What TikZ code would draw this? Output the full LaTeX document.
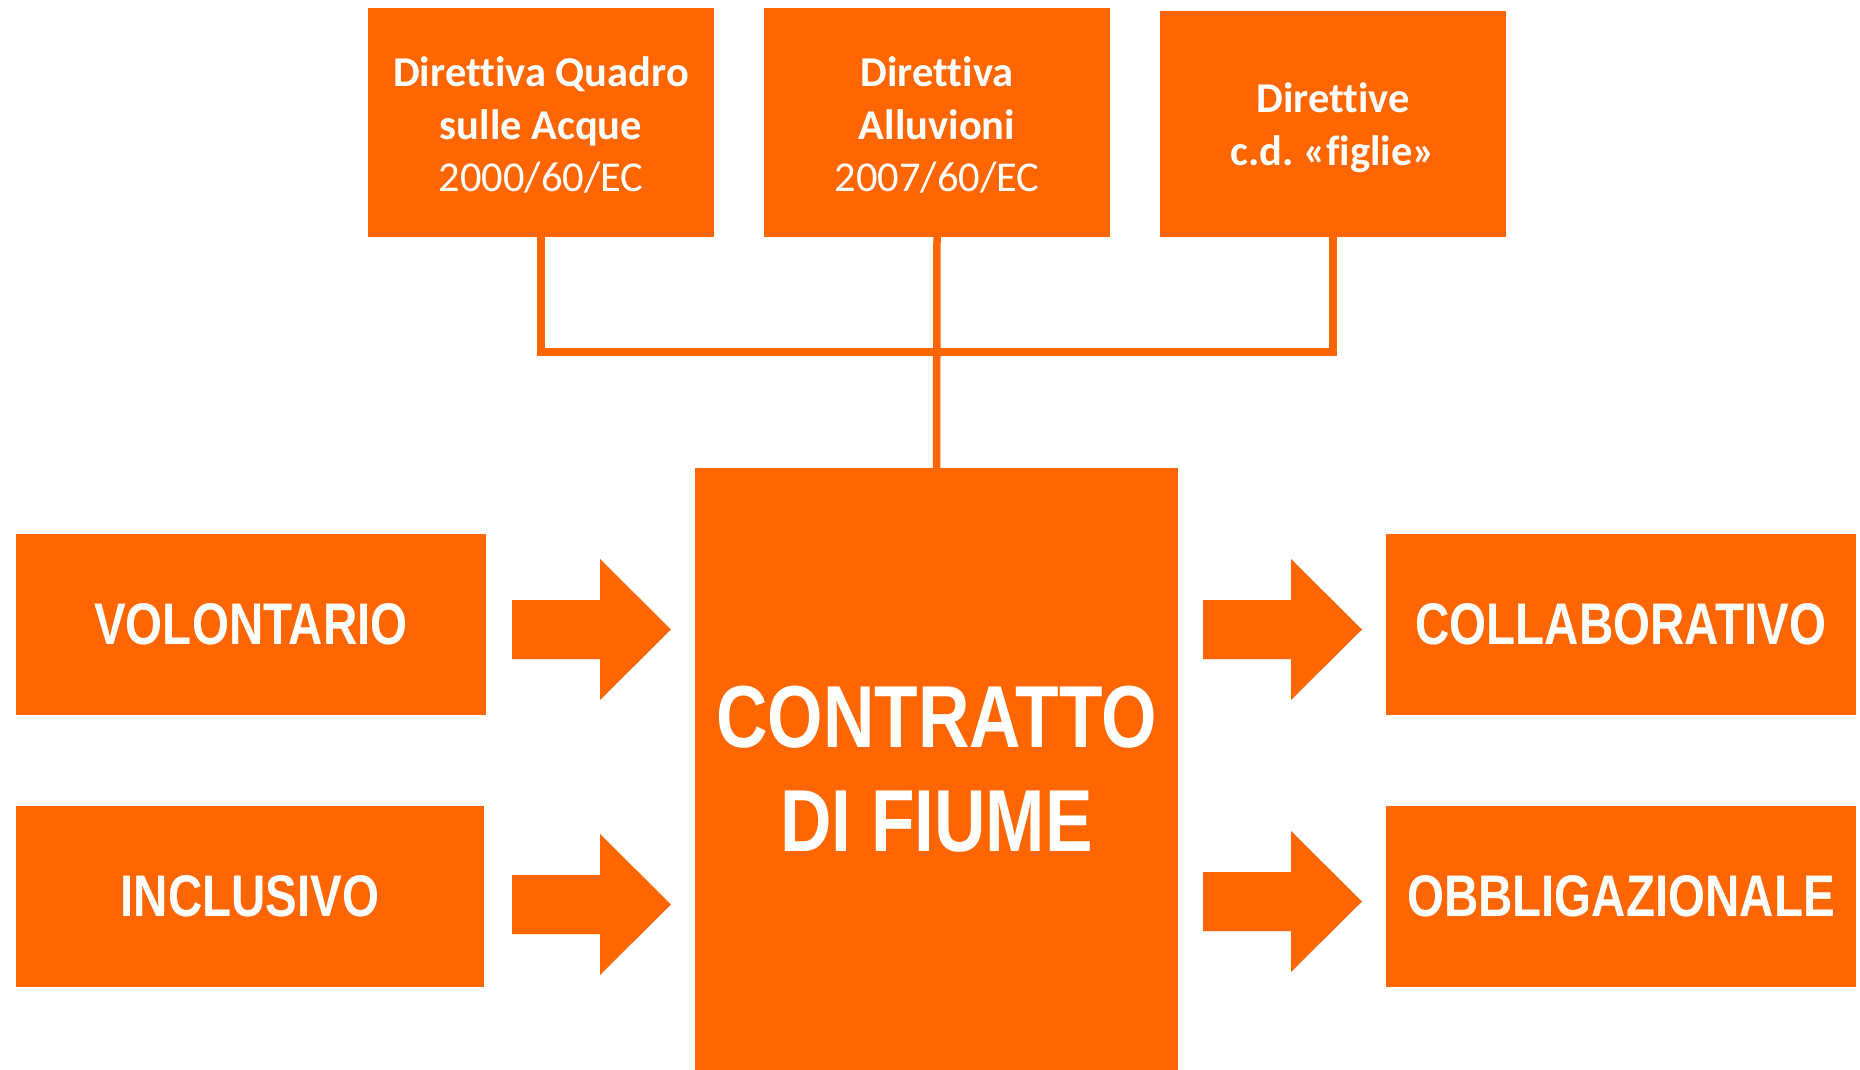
\documentclass[tikz,border=0pt]{standalone}
\usepackage{fontspec}
\newfontfamily\narrowfont{Liberation Sans}[FakeStretch=0.81]
\newfontfamily\calib{Carlito}[Ligatures=NoCommon]
\definecolor{orng}{RGB}{255,102,0}
\tikzset{
  box/.style={fill=orng, draw=none, inner sep=0pt, outer sep=0pt, text=white, align=center},
  topbox/.style={box, minimum width=346pt, font=\calib\fontsize{42.5}{52.5}\selectfont},
  sidebox/.style={box, minimum height=181pt, font=\narrowfont\bfseries\fontsize{58.7}{70}\selectfont},
  link/.style={draw=orng, line width=7.5pt, line join=miter, line cap=butt},
  barrow/.pic={\fill[orng] (-159,-29.5) -- (-71,-29.5) -- (-71,-70.5) -- (0,0) -- (-71,70.5) -- (-71,29.5) -- (-159,29.5) -- cycle;}
}
\begin{document}
\begin{tikzpicture}[x=1pt,y=-1pt]
\useasboundingbox (0,0) rectangle (1860,1070);
% top boxes
\node[topbox, minimum height=229pt] (b1) at (541,122.5) {\rule{0pt}{35pt}\textbf{Direttiva Quadro}\\\textbf{sulle Acque}\\2000/60/EC};
\node[topbox, minimum height=229pt] (b2) at (937,122.5) {\rule{0pt}{35pt}\textbf{Direttiva}\\\textbf{Alluvioni}\\2007/60/EC};
\node[topbox, minimum height=226pt] (b3) at (1333,124) {\rule{0pt}{37pt}\textbf{Direttive}\\\textbf{c.d.\ «figlie»}};
% central box
\node[box, minimum width=483pt, minimum height=603pt, font=\narrowfont\bfseries\fontsize{88}{104}\selectfont] (cf) at (936.5,769.5) {CONTRATTO\\DI FIUME};
% side boxes
\node[sidebox, minimum width=470pt] (vol) at (251,624.5) {VOLONTARIO};
\node[sidebox, minimum width=468pt] (inc) at (250,896.5) {INCLUSIVO};
\node[sidebox, minimum width=470pt] (col) at (1621,624.5) {COLLABORATIVO};
\node[sidebox, minimum width=470pt] (obb) at (1621,896.5) {OBBLIGAZIONALE};
% connectors
\coordinate (jn) at (937,352);
\draw[link] (b1.south) |- (jn) -| (b3.south);
\draw[link] (b2.south) -- (cf.north);
% block arrows
\pic at (671,629.5) {barrow};
\pic at (671,904.5) {barrow};
\pic at (1362,629.5) {barrow};
\pic at (1362,901.5) {barrow};
\end{tikzpicture}
\end{document}
